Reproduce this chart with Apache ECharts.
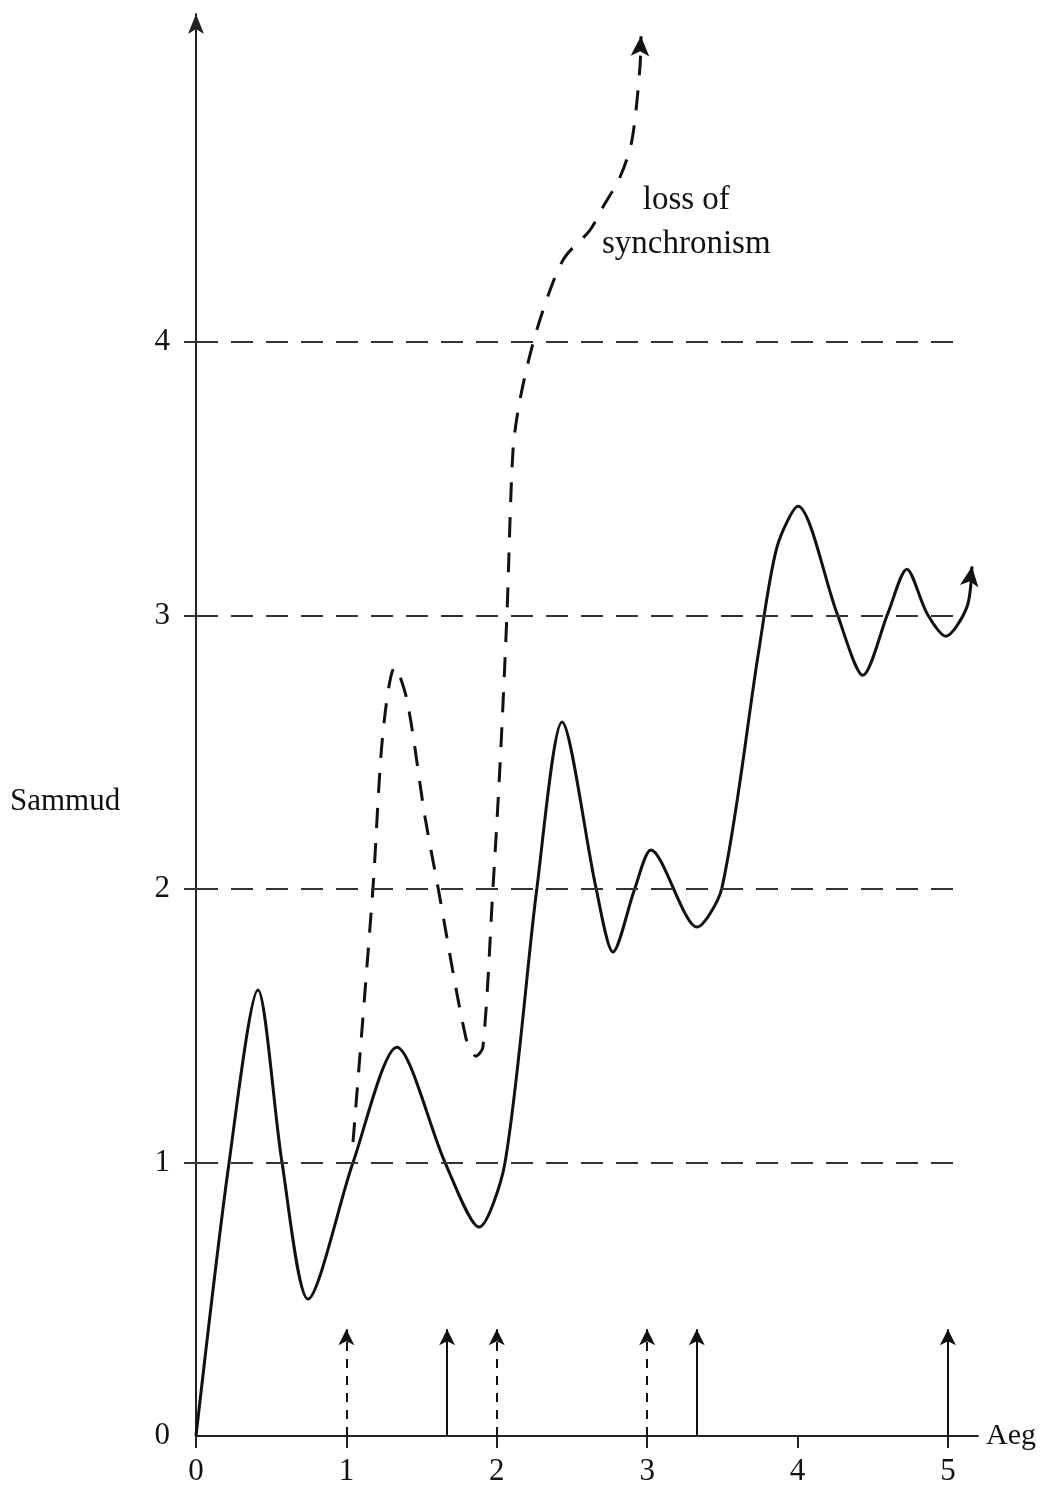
<!DOCTYPE html>
<html>
<head>
<meta charset="utf-8">
<script src="https://cdn.jsdelivr.net/npm/echarts@6/dist/echarts.min.js"></script>
<style>
  html, body { margin: 0; padding: 0; background: #fff; }
  #main { width: 1042px; height: 1494px; }
</style>
</head>
<body>
<div id="main"></div>
<script>
// stable swing (solid curve)
var stableX = [0, 0.22, 0.412, 0.572, 0.745, 1.044, 1.336, 1.656, 1.882, 2.055, 2.267, 2.434, 2.660, 2.773, 2.919, 3.025, 3.331, 3.497, 3.743, 3.863, 4.003, 4.262, 4.435, 4.601, 4.727, 4.860, 4.987, 5.126, 5.16];
var stableY = [0, 1.0, 1.631, 1.0, 0.501, 1.0, 1.422, 1.0, 0.764, 1.0, 2.004, 2.611, 2.004, 1.770, 2.004, 2.143, 1.861, 2.004, 2.874, 3.250, 3.400, 3.009, 2.782, 3.009, 3.170, 3.009, 2.925, 3.031, 3.18];

// unstable swing (dashed curve)
var unstableX = [1.044, 1.177, 1.243, 1.323, 1.403, 1.523, 1.609, 1.795, 1.862, 1.908, 1.975, 2.021, 2.068, 2.108, 2.154, 2.241, 2.354, 2.453, 2.620, 2.706, 2.819, 2.899, 2.952, 2.959];
var unstableY = [1.075, 2.007, 2.570, 2.812, 2.691, 2.263, 2.007, 1.455, 1.389, 1.422, 2.007, 2.446, 3.009, 3.605, 3.788, 3.996, 4.190, 4.311, 4.410, 4.494, 4.603, 4.739, 5.005, 5.119];

var refLevels = [1, 2, 3, 4];
var dashedArrowX = [1, 2, 3];
var solidArrowX = [1.67, 3.33, 5];
var arrowHeight = 0.39;
var xTicks = [0, 1, 2, 3, 4, 5];
var yTicks = [0, 1, 2, 3, 4];

var font = 'Liberation Serif';
var myChart = echarts.init(document.getElementById('main'));

function toPairs(xs, ys, endRotate) {
    return xs.map(function (x, i) {
        if (i === xs.length - 1) {
            return { value: [x, ys[i]], symbol: 'arrow', symbolSize: [14, 20], symbolRotate: endRotate };
        }
        return [x, ys[i]];
    });
}

var arrowLines = [];
dashedArrowX.forEach(function (x) {
    arrowLines.push([{ coord: [x, 0], lineStyle: { type: [9, 8] } }, { coord: [x, arrowHeight] }]);
});
solidArrowX.forEach(function (x) {
    arrowLines.push([{ coord: [x, 0], lineStyle: { type: 'solid' } }, { coord: [x, arrowHeight] }]);
});

var option = {
    animation: false,
    grid: { left: 196, right: 64, top: 14, bottom: 58 },
    xAxis: {
        type: 'value',
        min: 0,
        max: 5.2,
        interval: 1,
        name: 'Aeg',
        nameLocation: 'end',
        nameGap: 8,
        nameTextStyle: { fontFamily: font, fontSize: 30, color: '#111', verticalAlign: 'middle' },
        axisLine: { lineStyle: { color: '#222', width: 2 } },
        axisTick: { customValues: xTicks, length: 12, inside: false, lineStyle: { color: '#222', width: 2 } },
        axisLabel: { customValues: xTicks, margin: 20, fontFamily: font, fontSize: 31, color: '#111' },
        splitLine: { show: false }
    },
    yAxis: {
        type: 'value',
        min: 0,
        max: 5.2,
        interval: 1,
        axisLine: { show: true, symbol: ['none', 'arrow'], symbolSize: [12, 20], lineStyle: { color: '#222', width: 2 } },
        axisTick: { show: true, customValues: [1, 2, 3, 4], length: 12, lineStyle: { color: '#333', width: 2 } },
        axisLabel: { customValues: yTicks, margin: 26, fontFamily: font, fontSize: 31, color: '#111' },
        splitLine: { show: false }
    },
    graphic: [{
        type: 'text',
        left: 10,
        top: 786,
        style: { text: 'Sammud', font: '31px "Liberation Serif"', fill: '#111' }
    }],
    series: [{
        name: 'stable',
        type: 'line',
        data: toPairs(stableX, stableY, -8),
        smooth: 0.28,
        symbol: 'none',
        showSymbol: true,
        clip: false,
        itemStyle: { color: '#111' },
        lineStyle: { color: '#111', width: 3 },
        markLine: {
            silent: true,
            symbol: ['none', 'none'],
            label: { show: false },
            lineStyle: { color: '#333', width: 2, type: [22, 13] },
            data: refLevels.map(function (v) {
                return [{ coord: [0, v] }, { coord: [5.05, v] }];
            })
        }
    }, {
        name: 'unstable',
        type: 'line',
        data: toPairs(unstableX, unstableY, -3),
        smooth: 0.3,
        symbol: 'none',
        showSymbol: true,
        clip: false,
        itemStyle: { color: '#111' },
        lineStyle: { color: '#111', width: 3, type: [20, 15] },
        markLine: {
            silent: true,
            symbol: ['none', 'arrow'],
            symbolSize: [12, 16],
            label: { show: false },
            lineStyle: { color: '#111', width: 2 },
            data: arrowLines
        },
        markPoint: {
            silent: true,
            symbol: 'circle',
            symbolSize: 0,
            itemStyle: { color: 'transparent' },
            label: {
                show: true,
                position: 'inside',
                formatter: 'loss of\nsynchronism',
                fontFamily: font,
                fontSize: 33,
                lineHeight: 44,
                color: '#111'
            },
            data: [{ coord: [3.26, 4.44] }]
        }
    }]
};

myChart.setOption(option);
</script>
</body>
</html>
